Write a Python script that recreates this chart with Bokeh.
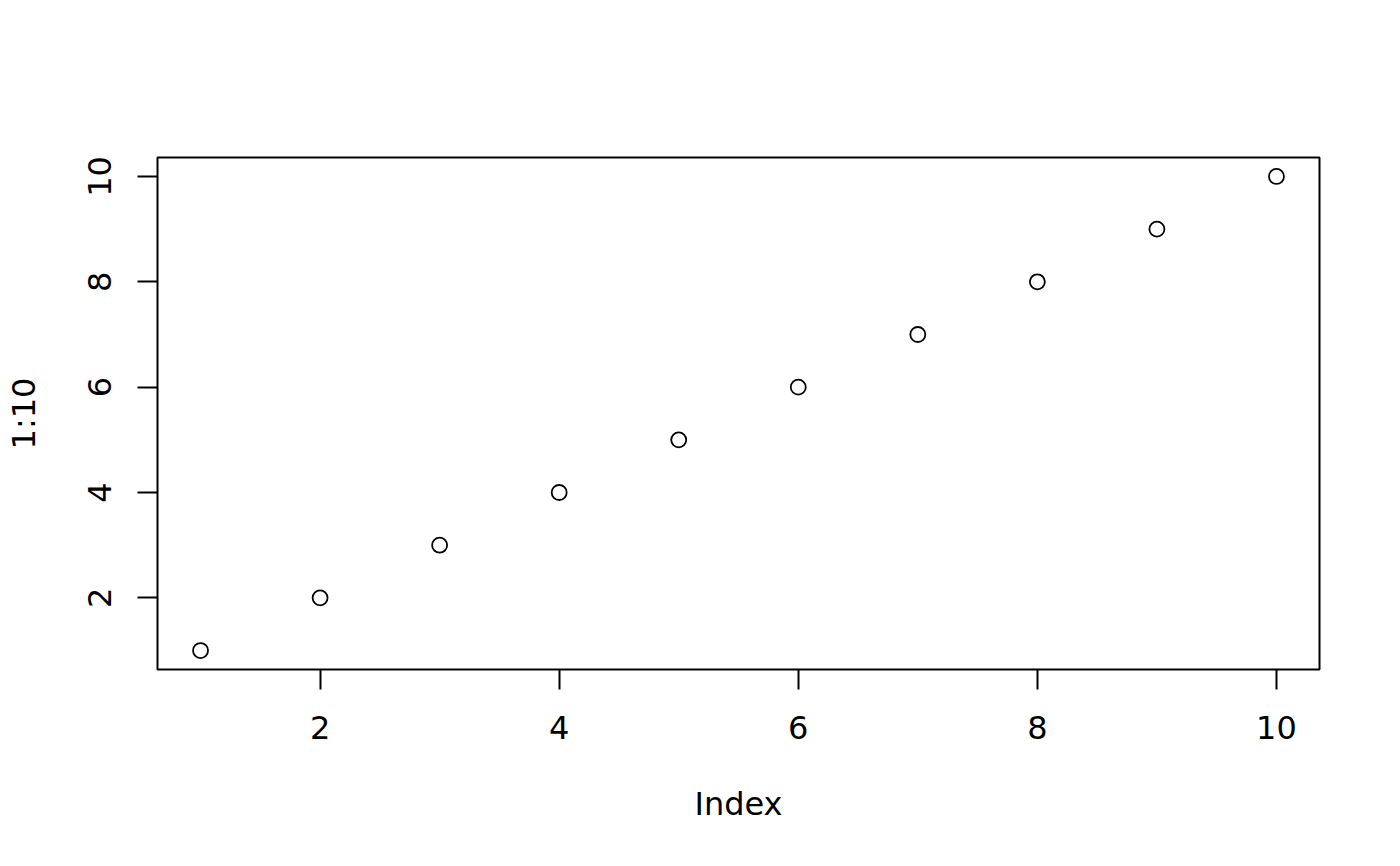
from bokeh.plotting import figure
from bokeh.models import Range1d, FixedTicker
from bokeh.embed import file_html
from bokeh.resources import INLINE

# data
index = [1, 2, 3, 4, 5, 6, 7, 8, 9, 10]
values = [1, 2, 3, 4, 5, 6, 7, 8, 9, 10]
x_ticks = [2, 4, 6, 8, 10]
y_ticks = [2, 4, 6, 8, 10]

FONT = "DejaVu Sans"

p = figure(width=1384, height=850, output_backend="svg", toolbar_location=None,
           x_range=Range1d(0.64, 10.36), y_range=Range1d(0.64, 10.36),
           x_axis_label="Index", y_axis_label="1:10",
           min_border_left=157, min_border_right=65,
           min_border_top=157, min_border_bottom=181)

p.grid.visible = False
p.outline_line_color = "black"
p.outline_line_width = 2
p.background_fill_color = "white"
p.border_fill_color = "white"

p.xaxis.ticker = FixedTicker(ticks=x_ticks)
p.yaxis.ticker = FixedTicker(ticks=y_ticks)

for ax in (p.xaxis, p.yaxis):
    ax.axis_line_color = None
    ax.major_tick_line_color = "black"
    ax.major_tick_line_width = 2
    ax.major_tick_out = 20
    ax.major_tick_in = 0
    ax.minor_tick_line_color = None
    ax.major_label_text_font = FONT
    ax.major_label_text_font_size = "32px"
    ax.major_label_text_color = "black"
    ax.axis_label_text_font = FONT
    ax.axis_label_text_font_size = "32px"
    ax.axis_label_text_font_style = "normal"
    ax.axis_label_text_color = "black"

p.xaxis.major_label_standoff = 26
p.xaxis.axis_label_standoff = 43
p.yaxis.major_label_orientation = "vertical"
p.yaxis.major_label_standoff = 26
p.yaxis.axis_label_standoff = 43

p.scatter(index, values, size=15, fill_color=None, line_color="black", line_width=1.8)

open("out.html", "w").write(file_html(p, INLINE))
